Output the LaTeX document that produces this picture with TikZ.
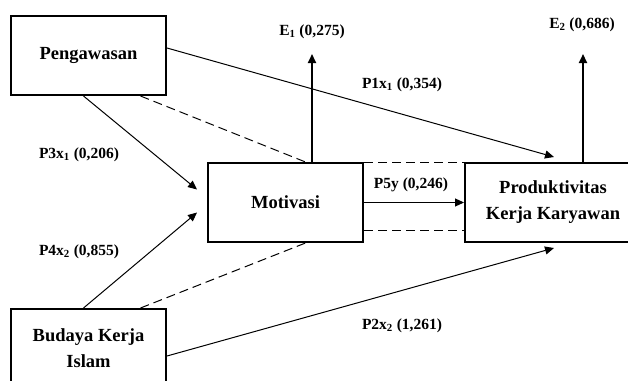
\documentclass[tikz,border=0pt]{standalone}
\usepackage{fontspec}
\setmainfont{Liberation Serif}
\usepackage{tikz}
\usetikzlibrary{arrows.meta,calc}

\begin{document}
\begin{tikzpicture}[
  x=1pt,y=-1pt,
  font=\bfseries\fontsize{15.5}{18}\selectfont,
  box/.style={draw,line width=2pt,minimum width=155pt,minimum height=79pt,align=center,inner sep=0pt,font=\bfseries\fontsize{18.5}{26}\selectfont},
  arr/.style={-{Triangle[length=9pt,width=8pt]},line width=1pt},
  err/.style={-{Triangle[length=9pt,width=8pt]},line width=2pt},
  dsh/.style={dash pattern=on 9pt off 5pt,line width=1pt},
  lbl/.style={inner sep=0pt}
]
\useasboundingbox (0,0) rectangle (628,380);
\clip (0,0) rectangle (628,380);
\node[box] (peng) at (88.5,55.5) {Pengawasan};
\node[box] (motiv) at (285.5,202.5) {Motivasi};
\node[box,minimum width=176pt] (prod) at (553,202.5) {Produktivitas\\Kerja Karyawan};
\node[box] (budaya) at (88.5,348.5) {Budaya Kerja\\Islam};
\coordinate (e1) at ($(motiv.north)+(26.5,-108)$);
\coordinate (e2) at ($(prod.north)+(30,-108)$);
\node[lbl] (e1lab) at (312,32) {E\textsubscript{1} (0,275)};
\node[lbl] (e2lab) at (582,25) {E\textsubscript{2} (0,686)};
\node[lbl] (p1lab) at (402,85) {P1x\textsubscript{1} (0,354)};
\node[lbl] (p3lab) at (79,155) {P3x\textsubscript{1} (0,206)};
\node[lbl] (p4lab) at (79,252) {P4x\textsubscript{2} (0,855)};
\node[lbl] (p2lab) at (402,326) {P2x\textsubscript{2} (1,261)};
\node[lbl] (p5lab) at (411,185) {P5y (0,246)};
\draw[arr] ($(peng.east)+(0,-7.5)$) -- ($(prod.north west)+(90,-5)$);
\draw[arr] ($(peng.south)+(-5,0)$) -- ($(motiv.west)+(-10,-13)$);
\draw[dsh] ($(peng.south)+(52,0)$) -- ($(motiv.north)+(20,0)$);
\draw[arr] ($(budaya.north)+(-5,0)$) -- ($(motiv.west)+(-10,10)$);
\draw[dsh] ($(budaya.north)+(52,0)$) -- ($(motiv.south)+(20,0)$);
\draw[arr] ($(budaya.east)+(0,7.5)$) -- ($(prod.south west)+(90,5)$);
\draw[arr] (motiv.east) -- (prod.west);
\draw[dsh] (motiv.north east) -- (prod.north west);
\draw[dsh] ($(motiv.east)+(0,27.5)$) -- ($(prod.west)+(0,27.5)$);
\draw[err] ($(motiv.north)+(26.5,0)$) -- (e1);
\draw[err] ($(prod.north)+(30,0)$) -- (e2);
\end{tikzpicture}
\end{document}
